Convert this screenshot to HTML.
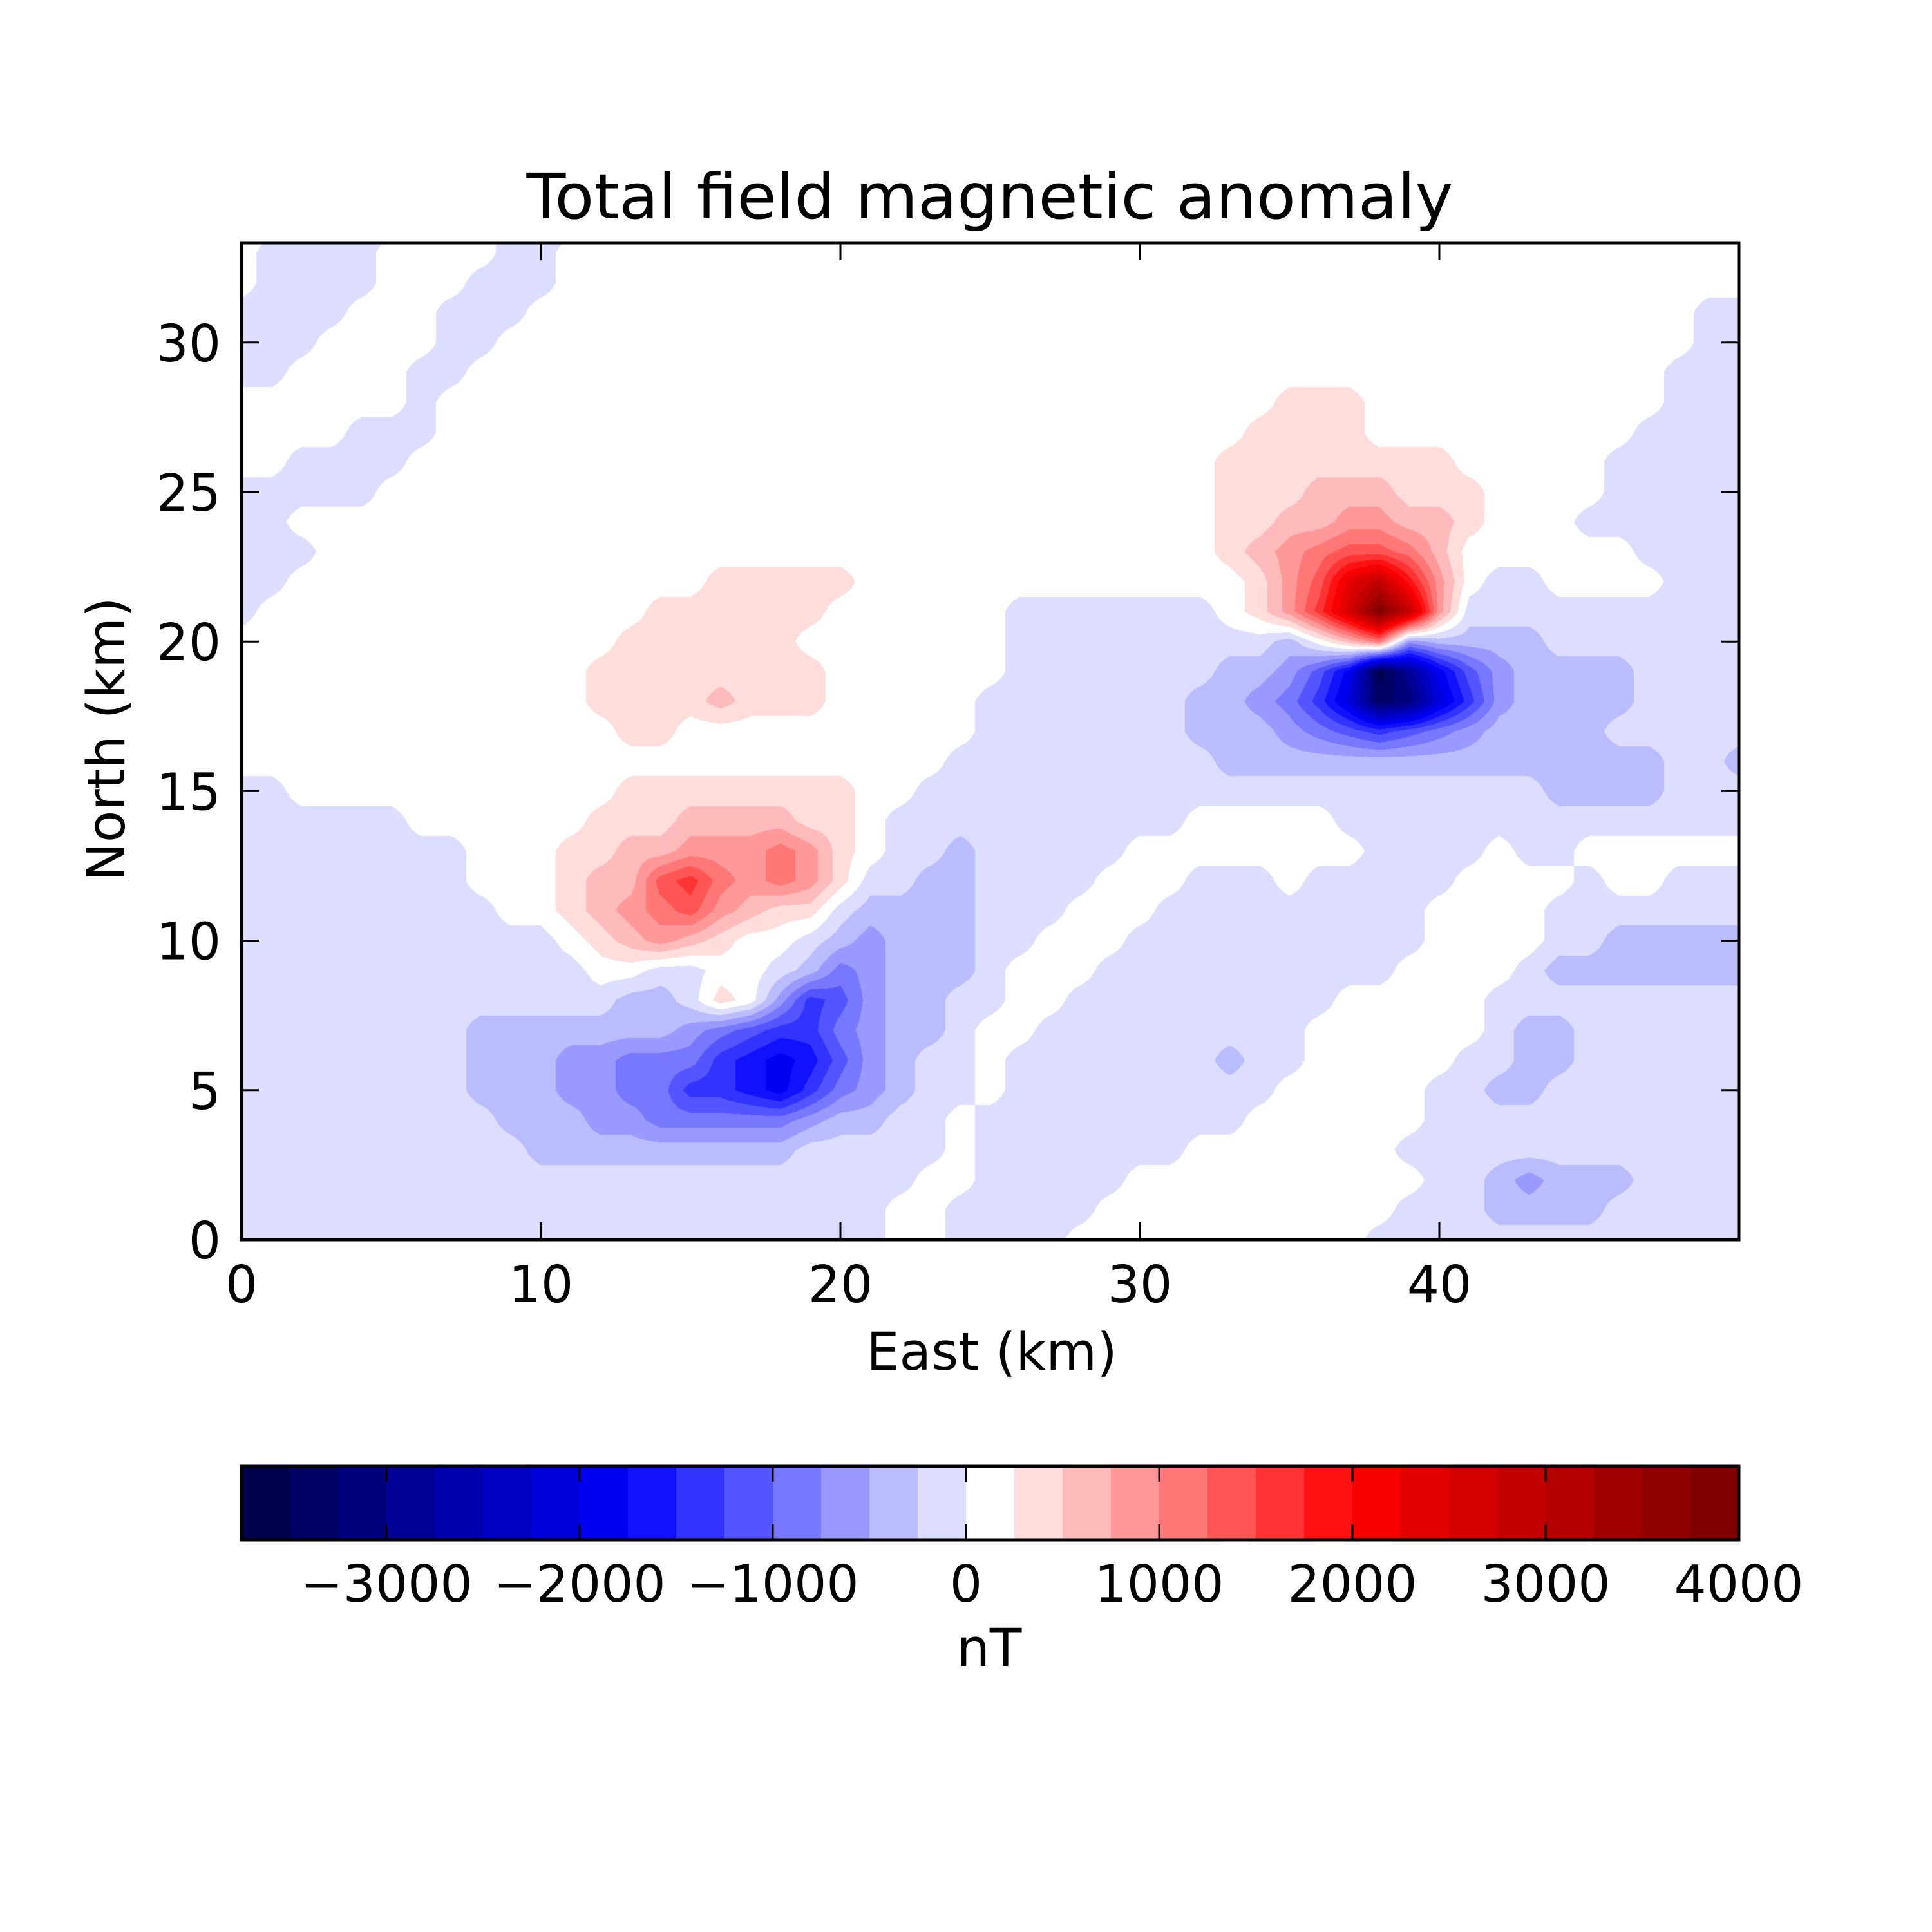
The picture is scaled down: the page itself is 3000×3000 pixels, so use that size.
<!DOCTYPE html>
<html>
<head>
<meta charset="utf-8">
<style>
  html,body{margin:0;padding:0;background:#ffffff;}
  #root{position:relative;width:3000px;height:3000px;background:#ffffff;overflow:hidden;}
  #field{position:absolute;left:375px;top:377px;width:2325px;height:1548px;}
  #overlay{position:absolute;left:0;top:0;}
  text{font-family:"DejaVu Sans","Liberation Sans",sans-serif;fill:#000;}
</style>
</head>
<body>
<div id="root">
  <canvas id="field" width="2325" height="1548"></canvas>
  <svg id="overlay" width="3000" height="3000" viewBox="0 0 3000 3000">
    <text x="1537" y="339" font-size="97" text-anchor="middle" textLength="1439" lengthAdjust="spacingAndGlyphs">Total field magnetic anomaly</text>
    <rect x="375" y="377" width="2325" height="1548" fill="none" stroke="#000" stroke-width="5"/>
    <g id="xticks"></g>
    <g id="yticks"></g>
    <text x="1540" y="2127" font-size="81" text-anchor="middle">East (km)</text>
    <text x="0" y="0" font-size="81" text-anchor="middle" transform="translate(193,1148) rotate(-90)">North (km)</text>
    <g id="cbar"></g>
    <text x="1536" y="2587" font-size="81" text-anchor="middle">nT</text>
  </svg>
</div>
<script>
// ---- data ----
const levelEdges = [-3750,-3500,-3250,-3000,-2750,-2500,-2250,-2000,-1750,-1500,-1250,-1000,-750,-500,-250,0,250,500,750,1000,1250,1500,1750,2000,2250,2500,2750,3000,3250,3500,3750,4000];
const xTicks = [0,10,20,30,40];
const yTicks = [0,5,10,15,20,25,30];
const cbarTicks = [-3000,-2000,-1000,0,1000,2000,3000,4000];
const cbarTickLabels = ["\u22123000","\u22122000","\u22121000","0","1000","2000","3000","4000"];
// grid of level codes, 1 km spacing, x = 0..50, rows listed from y = 34 down to y = 0
// lowercase = negative bands (a: -250..0, b: -500..-250, ...), uppercase = positive bands (A: 0..250, B: 250..500, ...)
const gridRows = [
"A2 a4 A3 a3 A39",
"A a4 A4 a2 A40",
"A a4 A3 a3 A40",
"a4 A3 a3 A39 a2",
"a3 A4 a2 A40 a2",
"a2 A4 a2 A40 a3",
"A6 a A28 B3 A10 a3",
"A4 a3 A27 B4 A9 a4",
"A2 a4 A27 B8 A5 a5",
"a5 A28 B3 C3 B3 A4 a5",
"a2 A31 B2 C2 D2 C2 B A3 a6",
"a3 A30 B C D E F F E C A6 a4",
"a2 A14 B5 A13 B D F J L H D A a2 A4 a3",
"a A13 B6 A6 a7 A B D G K P L D a10",
"A13 B6 A7 a9 b A C E c b4 a7",
"A12 B8 A6 a7 b2 c e h o l h e c b4 a4",
"A12 B4 C B3 A5 a7 b2 c d f i n m i f c b4 a4",
"A13 B2 A10 a7 b3 c d e f e d c b4 a5",
"A24 a9 b15 a2 b",
"a2 A11 B8 A2 a21 b4 a3",
"a6 A6 B3 C4 B2 A a10 A5 a14",
"a8 A3 B2 C2 D3 E D B A a2 b a5 A8 a4 A a2 A6",
"a8 A3 B C2 F G E D E D B a2 b2 a4 A3 a3 A a5 A4 a A2 a3",
"a9 A2 B C D E F D C B2 a b4 a3 A3 a9 A4 a7",
"a11 A B C D C B A2 a b c b3 a2 A3 a10 A4 a2 b5",
"a12 A2 a2 A2 a b d c b3 a A3 a10 A4 a b7",
"a13 b2 a B A c f e c b2 a2 A2 a9 A5 a9",
"a8 b7 c d e f2 d c b2 a A2 a9 A6 a b2 a6",
"a8 b3 c2 d3 f g h g e c b a2 A a7 b a2 A5 a2 b2 a6",
"a8 b3 c2 d2 f2 g h f d c b a2 A a9 A5 a2 b2 a7",
"a9 b3 c2 d5 c b2 a2 A a9 A6 a11",
"a10 b9 a5 A a7 A7 a12",
"a23 A2 a5 A10 a2 b c b3 a4",
"a22 A2 a5 A10 a3 b4 a5",
"a22 A2 a4 A10 a13"
];

// ---- scales ----
const PX0=375, PX1=2700, PY0=377, PY1=1925, XMAX=50, YMAX=33.333;
function xScale(v){return PX0 + v/XMAX*(PX1-PX0);}
function yScale(v){return PY1 - v/YMAX*(PY1-PY0);}
const CB0=375, CB1=2700, CBT=2277, CBB=2391;
function cbScale(v){return CB0 + (v-levelEdges[0])/(levelEdges[levelEdges.length-1]-levelEdges[0])*(CB1-CB0);}

function codeValue(ch){
  const lc="abcdefghijklmnop", uc="ABCDEFGHIJKLMNOP";
  let i=lc.indexOf(ch); if(i>=0) return -(i+1)*250+125;
  i=uc.indexOf(ch); if(i>=0) return i*250+125;
  return 125;
}
function parseRow(s){
  const out=[];
  s.trim().split(/\s+/).forEach(tok=>{
    const ch=tok[0]; const n=tok.length>1?parseInt(tok.slice(1)):1;
    for(let k=0;k<n;k++) out.push(codeValue(ch));
  });
  while(out.length<51) out.push(out[out.length-1]);
  return out.slice(0,51);
}
const grid = gridRows.map(parseRow).reverse(); // grid[y][x]
const NY = grid.length, NX = 51;

// seismic colormap
function seismic(t){
  t=Math.max(0,Math.min(1,t));
  let r,g,b;
  if(t<0.25){const f=t/0.25; r=0; g=0; b=0.3+0.7*f;}
  else if(t<0.5){const f=(t-0.25)/0.25; r=f; g=f; b=1;}
  else if(t<0.75){const f=(t-0.5)/0.25; r=1; g=1-f; b=1-f;}
  else {const f=(t-0.75)/0.25; r=1-0.5*f; g=0; b=0;}
  return [Math.round(r*255),Math.round(g*255),Math.round(b*255)];
}
const nb = levelEdges.length-1;
const midLo = (levelEdges[0]+levelEdges[1])/2, midHi=(levelEdges[nb-1]+levelEdges[nb])/2;
const bandColors = [];
for(let i=0;i<nb;i++){
  const mid=(levelEdges[i]+levelEdges[i+1])/2;
  bandColors.push(seismic((mid-midLo)/(midHi-midLo)));
}
function bandIndex(v){
  if(v<=levelEdges[0]) return 0;
  if(v>=levelEdges[nb]) return nb-1;
  for(let i=0;i<nb;i++){ if(v<levelEdges[i+1]) return i; }
  return nb-1;
}
function sample(x,y){
  let i=Math.floor(x), j=Math.floor(y);
  if(i>=NX-1) i=NX-2; if(j>=NY-1) j=NY-2; if(i<0)i=0; if(j<0)j=0;
  const fx=x-i, fy=y-j;
  const v00=grid[j][i], v10=grid[j][i+1], v01=grid[j+1][i], v11=grid[j+1][i+1];
  return v00*(1-fx)*(1-fy)+v10*fx*(1-fy)+v01*(1-fx)*fy+v11*fx*fy;
}

// ---- draw field ----
(function(){
  const cv=document.getElementById('field');
  const W=cv.width, H=cv.height;
  const ctx=cv.getContext('2d');
  const img=ctx.createImageData(W,H);
  const d=img.data;
  for(let py=0;py<H;py++){
    const y=(H-py-0.5)/H*YMAX;
    for(let px=0;px<W;px++){
      const x=(px+0.5)/W*XMAX;
      const c=bandColors[bandIndex(sample(x,y))];
      const o=(py*W+px)*4;
      d[o]=c[0]; d[o+1]=c[1]; d[o+2]=c[2]; d[o+3]=255;
    }
  }
  ctx.putImageData(img,0,0);
})();

// ---- axes ----
const NS="http://www.w3.org/2000/svg";
function mk(tag,attrs){const e=document.createElementNS(NS,tag);for(const k in attrs)e.setAttribute(k,attrs[k]);return e;}
const xg=document.getElementById('xticks');
xTicks.forEach(v=>{
  const x=xScale(v);
  const t1=mk('line',{x1:x,x2:x,y1:PY1,y2:PY1-27,stroke:'#000','stroke-width':3});
  
  
  xg.appendChild(t1);
  const t2=mk('line',{x1:x,x2:x,y1:PY0,y2:PY0+27,stroke:'#000','stroke-width':3});
  
  
  xg.appendChild(t2);
  const lb=mk('text',{x:x,y:2022,'font-size':79,'text-anchor':'middle'});
  lb.textContent=String(v);
  
  
  xg.appendChild(lb);
});
const yg=document.getElementById('yticks');
yTicks.forEach(v=>{
  const y=yScale(v);
  const t1=mk('line',{x1:PX0,x2:PX0+27,y1:y,y2:y,stroke:'#000','stroke-width':3});
  
  
  yg.appendChild(t1);
  const t2=mk('line',{x1:PX1,x2:PX1-27,y1:y,y2:y,stroke:'#000','stroke-width':3});
  
  
  yg.appendChild(t2);
  const lb=mk('text',{x:343,y:y+29,'font-size':79,'text-anchor':'end'});
  lb.textContent=String(v);
  
  
  yg.appendChild(lb);
});

// ---- colorbar ----
const cg=document.getElementById('cbar');
for(let i=0;i<nb;i++){
  const x0=cbScale(levelEdges[i]), x1=cbScale(levelEdges[i+1]);
  const c=bandColors[i];
  const r=mk('rect',{x:x0,y:CBT,width:(x1-x0)+0.8,height:CBB-CBT,fill:'rgb('+c[0]+','+c[1]+','+c[2]+')'});
  
  
  cg.appendChild(r);
}
const cframe=mk('rect',{x:CB0,y:CBT,width:CB1-CB0,height:CBB-CBT,fill:'none',stroke:'#000','stroke-width':5});


cg.appendChild(cframe);
cbarTicks.forEach((v,i)=>{
  const x=cbScale(v);
  const a=mk('line',{x1:x,x2:x,y1:CBT,y2:CBT+24,stroke:'#000','stroke-width':3});
  
  
  cg.appendChild(a);
  const b=mk('line',{x1:x,x2:x,y1:CBB,y2:CBB-24,stroke:'#000','stroke-width':3});
  
  
  cg.appendChild(b);
  const lb=mk('text',{x:x,y:2487,'font-size':79,'text-anchor':'middle'});
  lb.textContent=cbarTickLabels[i];
  
  
  cg.appendChild(lb);
});
</script>
</body>
</html>
